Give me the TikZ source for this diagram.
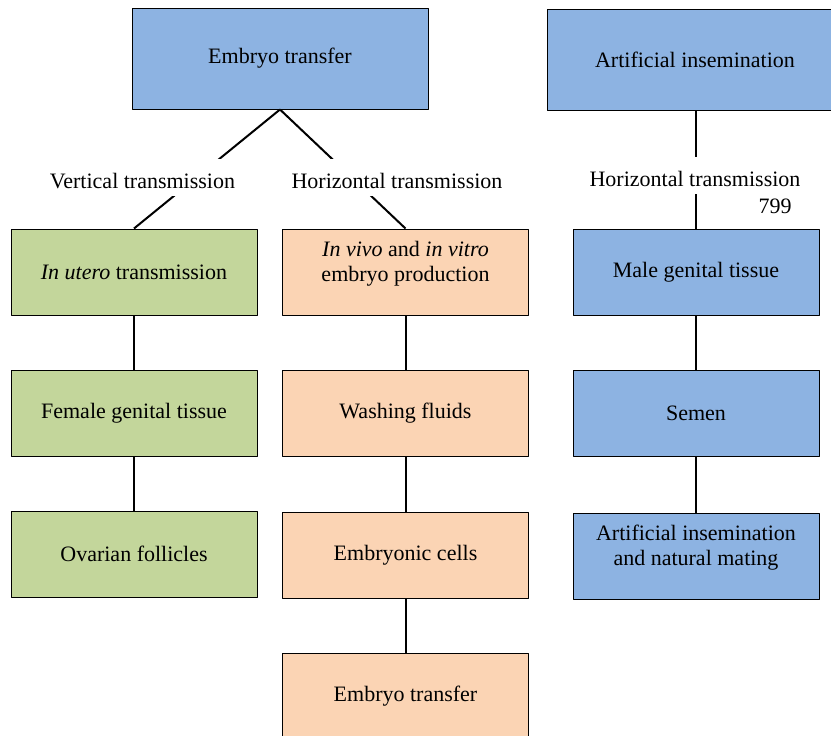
\documentclass[tikz,border=0pt]{standalone}
\usepackage{fontspec}
\setmainfont{Liberation Serif}
\definecolor{fillblue}{HTML}{8DB3E2}
\definecolor{fillgreen}{HTML}{C3D69B}
\definecolor{fillorange}{HTML}{FBD4B4}
\newcommand{\padlast}{\rule[-11pt]{0pt}{0pt}}
\begin{document}
\begin{tikzpicture}[x=0.5pt,y=-0.5pt,font=\fontsize{11}{12.5}\selectfont, line join=round,
	box/.style={draw, line width=0.5pt, minimum width=123pt, minimum height=43pt, align=center, inner sep=2pt},
	topbox/.style={box, fill=fillblue, minimum width=148pt, minimum height=50.5pt},
	bluebox/.style={box, fill=fillblue},
	greenbox/.style={box, fill=fillgreen},
	orangebox/.style={box, fill=fillorange},
	link/.style={line width=1pt},
	route/.style={fill=white, minimum height=18.5pt, text height=11.5pt, text depth=0pt, inner xsep=1pt, inner ysep=0pt}]
	\useasboundingbox (0,0) rectangle (831,735);
	% top boxes
	\node[topbox] (et) at (280,58.5) {Embryo transfer};
	\node[topbox] (ai) at (695,60) {Artificial insemination};
	% vertical route
	\node[greenbox] (g1) at (134,272) {\textit{In utero} transmission};
	\node[greenbox] (g2) at (134,413) {Female genital tissue};
	\node[greenbox] (g3) at (134,554) {Ovarian follicles};
	% horizontal route, embryos
	\node[orangebox] (o1) at (405.5,272) {\textit{In vivo} and \textit{in vitro}\\embryo production\padlast};
	\node[orangebox] (o2) at (405.5,413) {Washing fluids};
	\node[orangebox] (o3) at (405.5,555) {Embryonic cells};
	\node[orangebox] (o4) at (405.5,696) {Embryo transfer};
	% horizontal route, semen
	\node[bluebox] (b1) at (696,272) {Male genital tissue};
	\node[bluebox] (b2) at (696,413) {Semen};
	\node[bluebox] (b3) at (696,556) {Artificial insemination\\and natural mating\padlast};
	% connectors
	\draw[link] (et.south) -- (g1.north);
	\draw[link] (et.south) -- (o1.north);
	\draw[link] (ai.south -| b1.north) -- (b1.north);
	\foreach \a/\b in {g1/g2,g2/g3,o1/o2,o2/o3,o3/o4,b1/b2,b2/b3}
	\draw[link] (\a) -- (\b);
	% route labels
	\node[route] (vt) at (142.5,177) {Vertical transmission};
	\node[route] (ht) at (397,177) {Horizontal transmission};
	\node[route] (hs) at (695,175) {Horizontal transmission};
	\node (pg) at (775,206) {799};
\end{tikzpicture}
\end{document}
